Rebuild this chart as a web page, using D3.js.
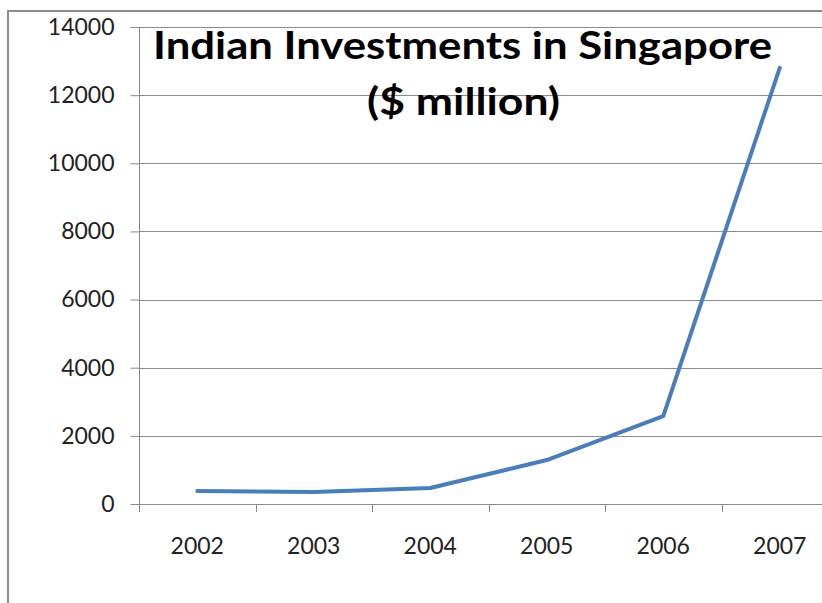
<!DOCTYPE html>
<html>
<head>
<meta charset="utf-8">
<script src="https://cdn.jsdelivr.net/npm/d3@7"></script>
<style>
  html, body { margin: 0; padding: 0; background: #fff; }
  svg { display: block; }
</style>
</head>
<body>
<svg id="chart" width="822" height="603"></svg>
<script>
const years = ["2002", "2003", "2004", "2005", "2006", "2007"];
const investments = [380, 350, 470, 1290, 2580, 12800];
const yTicks = [0, 2000, 4000, 6000, 8000, 10000, 12000, 14000];
const titleLines = ["Indian Investments in Singapore", "($ million)"];

const svg = d3.select("#chart");
const plotLeft = 139, plotRight = 838, plotTop = 27, plotBottom = 504;

const x = d3.scaleBand().domain(years).range([plotLeft, plotRight]);
const y = d3.scaleLinear().domain([0, 14000]).range([plotBottom, plotTop]);

// outer frame
svg.append("rect")
  .attr("x", 8).attr("y", 11)
  .attr("width", 830).attr("height", 620)
  .attr("fill", "#fff")
  .attr("stroke", "#8c8c8c").attr("stroke-width", 2);

const gridColor = "#8a8a8a";

// gridlines
svg.append("g").selectAll("line").data(yTicks).join("line")
  .attr("x1", plotLeft).attr("x2", plotRight)
  .attr("y1", d => Math.round(y(d)) + 0.5).attr("y2", d => Math.round(y(d)) + 0.5)
  .attr("stroke", gridColor).attr("stroke-width", 1);

// y axis
const yAxis = svg.append("g")
  .attr("transform", `translate(${plotLeft + 0.5},0)`)
  .call(d3.axisLeft(y).tickValues(yTicks).tickSize(9).tickPadding(16).tickFormat(d3.format("d")));
yAxis.select(".domain").attr("stroke", gridColor).attr("d", `M0,${plotTop}V${plotBottom}`);
yAxis.selectAll(".tick line").attr("stroke", gridColor);
yAxis.selectAll(".tick text")
  .attr("font-family", "Lato, 'Liberation Sans', sans-serif")
  .attr("font-size", 23).attr("fill", "#222");

// x axis
const xAxis = svg.append("g")
  .attr("transform", `translate(0,${Math.round(y(0)) + 0.5})`)
  .call(d3.axisBottom(x).tickSize(0).tickPadding(33));
xAxis.select(".domain").attr("stroke", gridColor).attr("d", `M${plotLeft},0H${plotRight}`);
xAxis.selectAll(".tick text")
  .attr("font-family", "Lato, 'Liberation Sans', sans-serif")
  .attr("font-size", 23).attr("fill", "#222");

// x tick marks at category boundaries
const bounds = years.map(d => x(d)).concat([x(years[years.length - 1]) + x.bandwidth()]);
svg.append("g").selectAll("line").data(bounds).join("line")
  .attr("x1", d => Math.round(d) + 0.5).attr("x2", d => Math.round(d) + 0.5)
  .attr("y1", Math.round(y(0))).attr("y2", Math.round(y(0)) + 8)
  .attr("stroke", gridColor).attr("stroke-width", 1);

// line
const line = d3.line()
  .x((d, i) => x(years[i]) + x.bandwidth() / 2)
  .y(d => y(d));
svg.append("path")
  .datum(investments)
  .attr("d", line)
  .attr("fill", "none")
  .attr("stroke", "#4a7ebb")
  .attr("stroke-width", 4)
  .attr("stroke-linejoin", "round")
  .attr("stroke-linecap", "round");

// title
svg.append("text")
  .attr("x", 153).attr("y", 59)
  .attr("textLength", 619).attr("lengthAdjust", "spacingAndGlyphs")
  .attr("font-family", "Lato, 'Open Sans', sans-serif")
  .attr("font-weight", "bold").attr("font-size", 38).attr("fill", "#000")
  .text(titleLines[0]);
svg.append("text")
  .attr("x", 367).attr("y", 115)
  .attr("textLength", 193).attr("lengthAdjust", "spacingAndGlyphs")
  .attr("font-family", "Lato, 'Open Sans', sans-serif")
  .attr("font-weight", "bold").attr("font-size", 38).attr("fill", "#000")
  .text(titleLines[1]);
</script>
</body>
</html>
